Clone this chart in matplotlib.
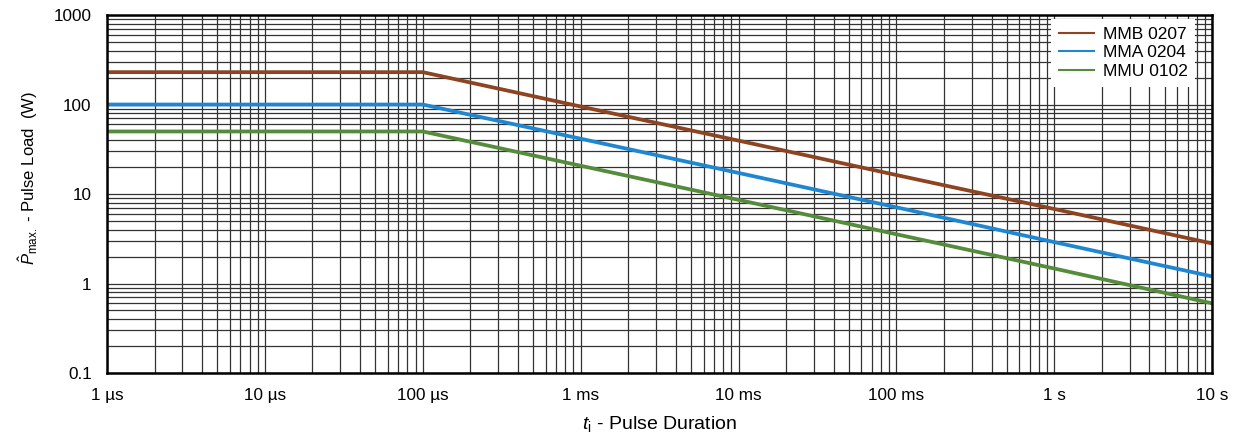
import matplotlib
matplotlib.use("Agg")
import matplotlib.pyplot as plt
from matplotlib.ticker import FixedLocator, LogLocator, NullFormatter

plt.rcParams['font.family'] = ['Liberation Sans', 'DejaVu Sans']
plt.rcParams['mathtext.fontset'] = 'custom'
plt.rcParams['mathtext.rm'] = 'Liberation Sans'
plt.rcParams['mathtext.it'] = 'Liberation Sans:italic'

# pulse duration (s) and pulse load (W)
duracao = [1e-6, 1e-4, 1e-3, 1e-2, 1e-1, 1, 10]
mmb_0207 = [230, 230, 95, 39.5, 16.3, 6.8, 2.8]
mma_0204 = [100, 100, 41.5, 17.2, 7.1, 2.9, 1.2]
mmu_0102 = [50, 50, 20.7, 8.6, 3.55, 1.47, 0.6]

x_ticks = [1e-6, 1e-5, 1e-4, 1e-3, 1e-2, 1e-1, 1, 10]
x_labels = ['1 µs', '10 µs', '100 µs', '1 ms', '10 ms', '100 ms', '1 s', '10 s']
y_ticks = [0.1, 1, 10, 100, 1000]
y_labels = ['0.1', '1', '10', '100', '1000']

fig = plt.figure(figsize=(12.37, 4.36), dpi=100)
ax = fig.add_axes([0.0865, 0.1445, 0.8935, 0.821])

ax.plot(duracao, mmb_0207, color='#8C4421', lw=2.7, label='MMB 0207', zorder=3)
ax.plot(duracao, mma_0204, color='#1F87D2', lw=2.7, label='MMA 0204', zorder=3)
ax.plot(duracao, mmu_0102, color='#548C3C', lw=2.7, label='MMU 0102', zorder=3)

ax.set_xscale('log')
ax.set_yscale('log')
ax.set_xlim(1e-6, 10)
ax.set_ylim(0.1, 1000)

ax.xaxis.set_major_locator(FixedLocator(x_ticks))
ax.set_xticklabels(x_labels)
ax.yaxis.set_major_locator(FixedLocator(y_ticks))
ax.set_yticklabels(y_labels)
ax.xaxis.set_minor_locator(LogLocator(base=10, subs=range(2, 10), numticks=20))
ax.yaxis.set_minor_locator(LogLocator(base=10, subs=range(2, 10), numticks=20))
ax.xaxis.set_minor_formatter(NullFormatter())
ax.yaxis.set_minor_formatter(NullFormatter())

ax.grid(True, which='both', color='#333333', lw=0.9, zorder=1)
ax.tick_params(which='both', length=0, labelsize=12.3, pad=11)

for s in ax.spines.values():
    s.set_linewidth(1.8)
    s.set_zorder(4)

ax.set_xlabel(r'$t_{\mathrm{i}}$ - Pulse Duration', fontsize=14)
ax.set_ylabel(r'$\hat{P}_{\mathrm{max.}}$ - Pulse Load  (W)', fontsize=12)
ax.xaxis.set_label_coords(0.5, -0.114)
ax.yaxis.set_label_coords(-0.061, 0.545)

leg = ax.legend(loc='upper right', bbox_to_anchor=(0.9846, 0.99), fontsize=12.5,
                frameon=True, fancybox=False, edgecolor='white', framealpha=1,
                handlelength=2.0, handletextpad=0.5, labelspacing=0.2,
                borderpad=0.45, borderaxespad=0)
leg.get_frame().set_linewidth(0)
for ln in leg.get_lines():
    ln.set_linewidth(1.5)

fig.savefig('out.png', dpi=100)
plt.close(fig)
